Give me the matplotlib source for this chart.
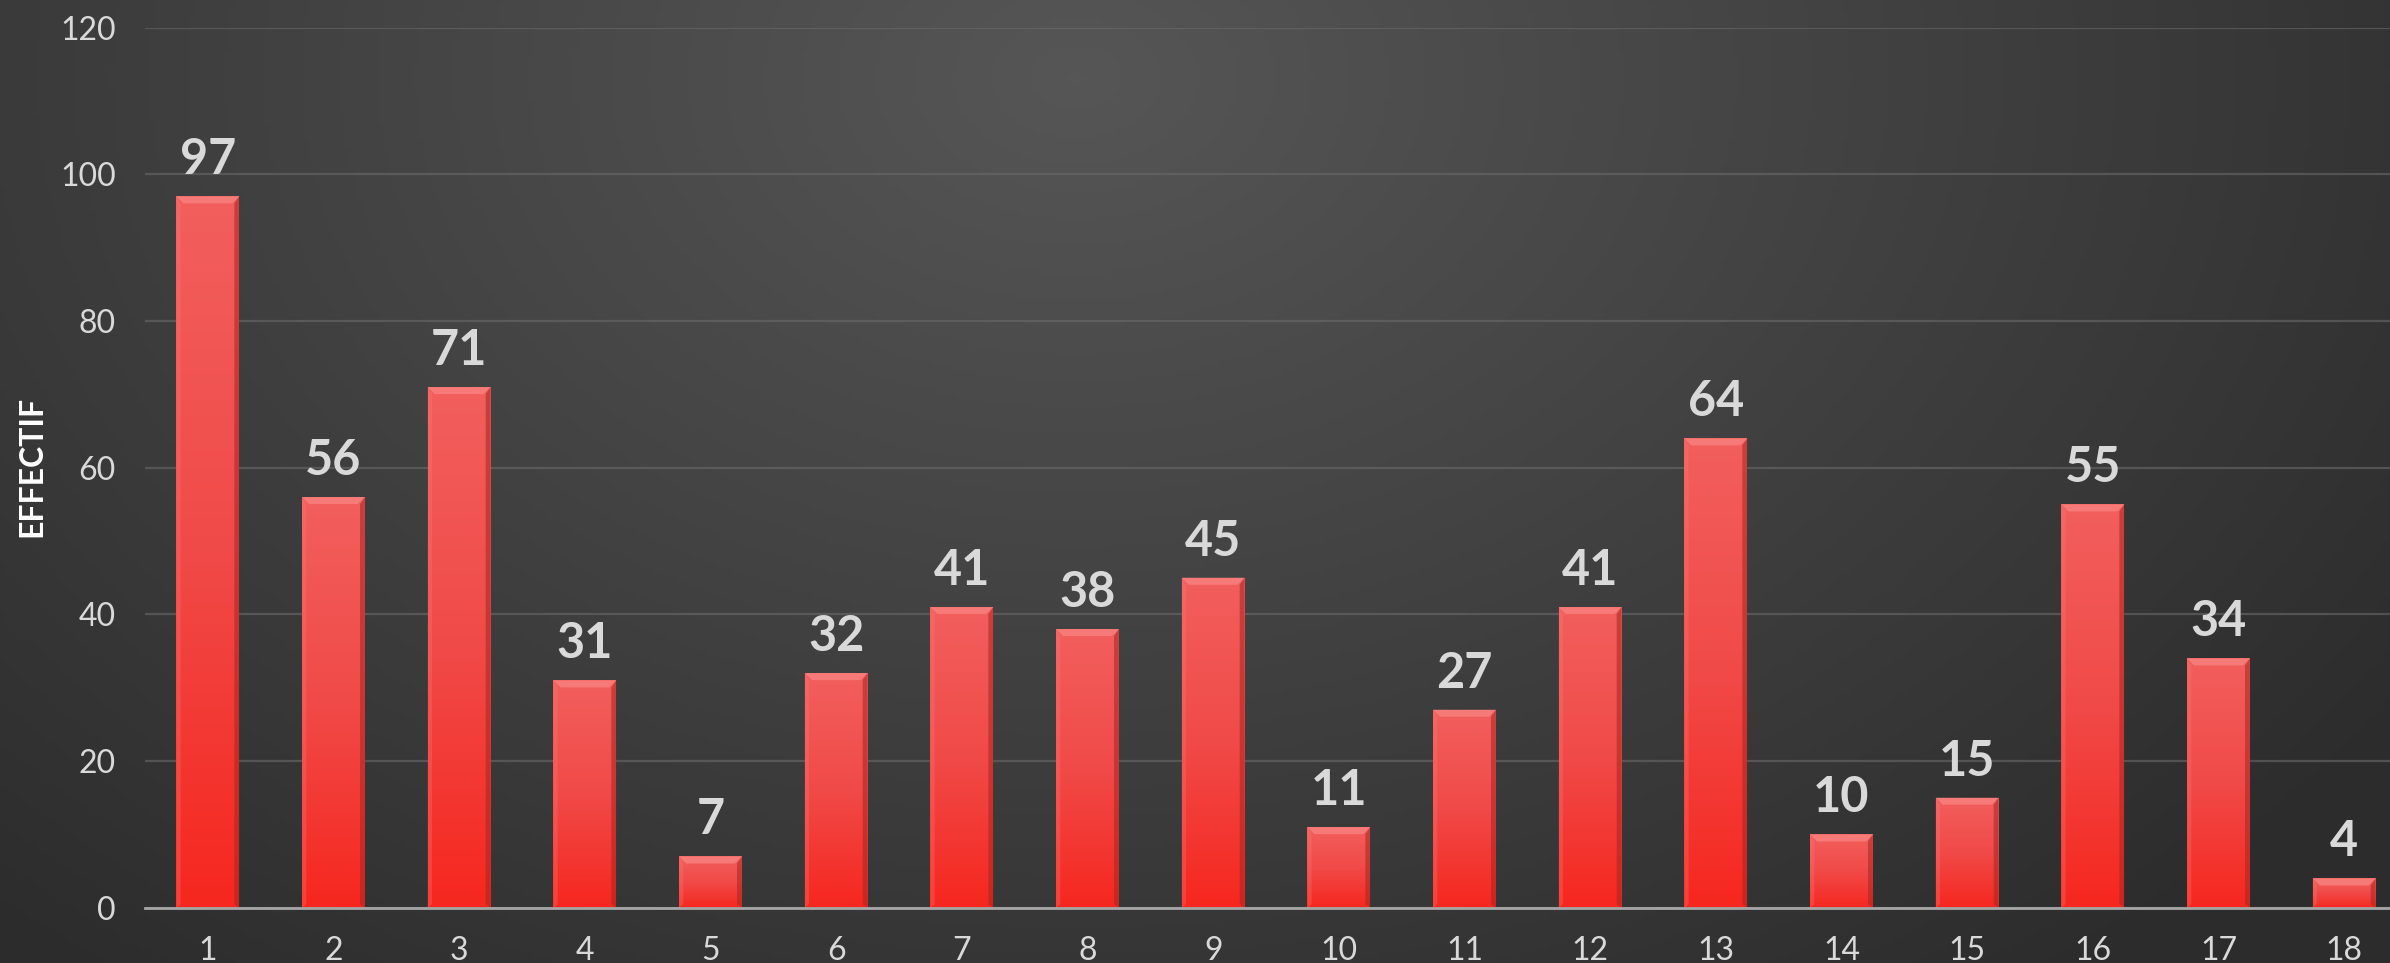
import numpy as np
import matplotlib.pyplot as plt
from matplotlib.patches import Polygon
from matplotlib.colors import LinearSegmentedColormap

# data
categories = [str(i) for i in range(1, 19)]
effectif = [97, 56, 71, 31, 7, 32, 41, 38, 45, 11, 27, 41, 64, 10, 15, 55, 34, 4]
y_ticks = [0, 20, 40, 60, 80, 100, 120]

W, H = 2390, 963
fig = plt.figure(figsize=(W / 100, H / 100), dpi=100)

# radial gradient background
bg_ax = fig.add_axes([0, 0, 1, 1], zorder=0)
gx, gy = np.meshgrid(np.linspace(0, 1, 480), np.linspace(0, 1, 200))
d = np.sqrt(((gx - 0.45) / 0.68) ** 2 + ((gy - 0.08) / 1.2) ** 2)
d = np.clip(d, 0, 1)
bg_cmap = LinearSegmentedColormap.from_list("bg", ["#565656", "#484848", "#3a3a3a", "#2c2c2c"])
bg_ax.imshow(d, cmap=bg_cmap, aspect="auto", extent=[0, 1, 0, 1], origin="upper")
bg_ax.axis("off")

ax = fig.add_axes([145 / W, 1 - 907.8 / H, (2407 - 145) / W, (907.8 - 27.7) / H], zorder=1)
ax.patch.set_alpha(0)

x = np.arange(1, len(effectif) + 1)
bar_w = 0.5
ax.set_xlim(0.5, 18.5)
ax.set_ylim(0, 120)

bars = ax.bar(x, effectif, width=bar_w, color="#f23a36", zorder=3)

bar_cmap = LinearSegmentedColormap.from_list("bar", ["#f25f5d", "#f04a48", "#f6271f"])
grad = np.linspace(0, 1, 256).reshape(-1, 1)

# pixel sizes in data units (used for the bevel)
px_x = 1 / 125.7
px_y = 120 / (907.8 - 27.7)
b = 7

for rect, v in zip(bars, effectif):
    x0 = rect.get_x()
    x1 = x0 + rect.get_width()
    im = ax.imshow(grad, cmap=bar_cmap, aspect="auto", extent=[x0, x1, 0, v],
                   origin="upper", zorder=4)
    im.set_clip_path(rect)
    bx, by = b * px_x, b * px_y
    by = min(by, v / 3)
    # top bevel
    ax.add_patch(Polygon([(x0, v), (x1, v), (x1 - bx, v - by), (x0 + bx, v - by)],
                         closed=True, facecolor="#f67a77", edgecolor="none", zorder=5))
    # right side shade
    ax.add_patch(Polygon([(x1, v), (x1, 0), (x1 - bx * 0.7, by * 0.5), (x1 - bx * 0.7, v - by)],
                         closed=True, facecolor="#a82520", alpha=0.55, edgecolor="none", zorder=5))
    # left side highlight
    ax.add_patch(Polygon([(x0, v), (x0, 0), (x0 + bx * 0.6, by * 0.5), (x0 + bx * 0.6, v - by)],
                         closed=True, facecolor="#ff7a76", alpha=0.3, edgecolor="none", zorder=5))
    ax.annotate(str(v), (rect.get_x() + rect.get_width() / 2, v), xytext=(0, 16),
                textcoords="offset points", ha="center", va="baseline",
                fontsize=35, fontweight="bold", color="#d9d9d9", family="Lato", zorder=6)

ax.set_yticks(y_ticks)
ax.set_xticks(x)
ax.set_xticklabels(categories)
ax.grid(axis="y", color="#6a6a6a", linewidth=1.6, alpha=0.6, zorder=1)
for s in ["top", "right", "left"]:
    ax.spines[s].set_visible(False)
ax.spines["bottom"].set_color("#a6a6a6")
ax.spines["bottom"].set_linewidth(2)
ax.spines["bottom"].set_zorder(6)
ax.tick_params(axis="both", length=0, labelsize=23, labelcolor="#d9d9d9")
ax.tick_params(axis="y", pad=21)
ax.tick_params(axis="x", pad=20)
for lbl in ax.get_xticklabels() + ax.get_yticklabels():
    lbl.set_family("Lato")

fig.text(32 / W, 1 - 466 / H, "EFFECTIF", rotation=90, ha="center", va="center",
         fontsize=23, fontweight="bold", color="white", family="Lato")

fig.savefig("out.png", dpi=100)
